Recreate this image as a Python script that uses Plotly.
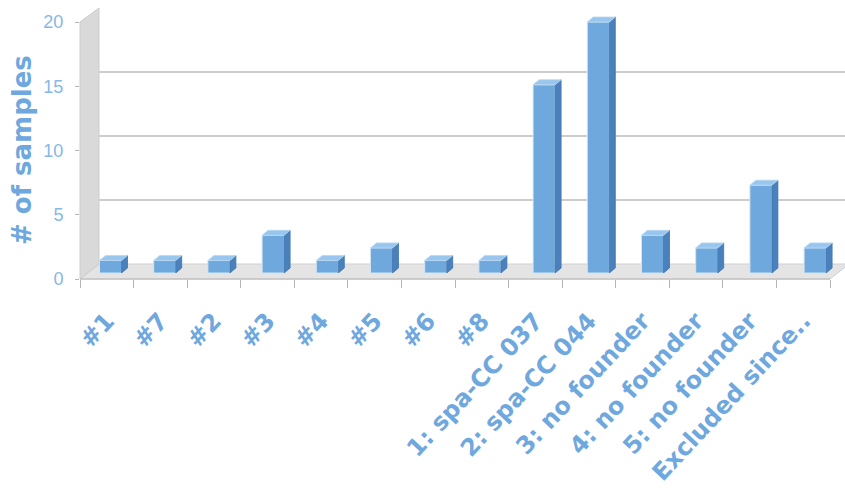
import plotly.graph_objects as go

# ---- data -------------------------------------------------------------
categories = ["#1", "#7", "#2", "#3", "#4", "#5", "#6", "#8",
              "1: spa-CC 037", "2: spa-CC 044", "3: no founder",
              "4: no founder", "5: no founder", "Excluded since.."]
samples = [1, 1, 1, 3, 1, 2, 1, 1, 15, 20, 3, 2, 7, 2]
y_ticks = [0, 5, 10, 15, 20]
y_title = "# of samples"

# ---- geometry (pixels) -------------------------------------------------
W, H = 845, 502
FRONT_X = (80, 830)      # front edge of the floor
FRONT_Y = (279, 22)      # value 0 / value 20 on the front plane
DEPTH = (19, -15)        # offset of the back wall from the front plane
BAR_X = (83.4, 842.2)    # plane in which the bar fronts sit
BAR_Y = (273, 22)
BAR_W_PX, SIDE_PX, TOP_PX = 22, 6, 5
YMAX = 20
HEADROOM = 1.5           # extra value units above the bar plane for 3D tops


def xd(px):
    return px / W


def yd(py):
    return 1 - py / H


FRONT = "#6fa8dc"
SIDE = "#4a80bb"
TOP = "#98c6ee"
EDGE = "#cfe4f7"
LABEL = "#6fa8de"
TICKLBL = "#86b8e6"
FONT = "DejaVu Sans"

n = len(categories)
idx = list(range(n))

fig = go.Figure()

# back wall: gridlines only (subplot xy, drawn first)
fig.add_trace(go.Scatter(x=[0, 1], y=[0, 0], mode="lines",
                         line=dict(width=0), hoverinfo="skip",
                         xaxis="x", yaxis="y"))

# front axis carrying the category labels (subplot x2y2)
fig.add_trace(go.Scatter(x=categories, y=[0] * n, mode="markers",
                         marker=dict(opacity=0), hoverinfo="skip",
                         xaxis="x2", yaxis="y2"))

# bars (subplot x3y3, drawn last so they sit above the grid)
bar_span = BAR_X[1] - BAR_X[0]
unit_x = bar_span / n                     # px per category on bar plane
unit_y = (BAR_Y[0] - BAR_Y[1]) / YMAX     # px per value on bar plane
bw = BAR_W_PX / unit_x
ddx = SIDE_PX / unit_x
ddy = TOP_PX / unit_y

side_x, side_y, top_x, top_y = [], [], [], []
for i, v in zip(idx, samples):
    r = i + bw / 2
    l = i - bw / 2
    side_x += [r, r + ddx, r + ddx, r, r, None]
    side_y += [0, ddy, v + ddy, v, 0, None]
    top_x += [l, r, r + ddx, l + ddx, l, None]
    top_y += [v, v, v + ddy, v + ddy, v, None]

fig.add_trace(go.Scatter(x=side_x, y=side_y, mode="lines", fill="toself",
                         fillcolor=SIDE, line=dict(color="#3f74ad", width=0.8),
                         hoverinfo="skip", cliponaxis=False,
                         xaxis="x3", yaxis="y3"))
fig.add_trace(go.Bar(x=idx, y=samples, width=bw, marker=dict(
    color=FRONT, line=dict(color=EDGE, width=1)), cliponaxis=False,
    hoverinfo="skip", xaxis="x3", yaxis="y3"))
fig.add_trace(go.Scatter(x=top_x, y=top_y, mode="lines", fill="toself",
                         fillcolor=TOP, line=dict(color="#b8d8f3", width=0.8),
                         hoverinfo="skip", cliponaxis=False,
                         xaxis="x3", yaxis="y3"))

# floor and left wall
fx0, fx1 = FRONT_X
fy0, fyt = FRONT_Y
bx0, bx1 = fx0 + DEPTH[0], fx1 + DEPTH[0]
by0, byt = fy0 + DEPTH[1], 8
floor_path = (f"M {xd(fx0)} {yd(fy0)} L {xd(fx1)} {yd(fy0)} "
              f"L {xd(bx1)} {yd(by0)} L {xd(bx0)} {yd(by0)} Z")
wall_path = (f"M {xd(fx0)} {yd(fy0)} L {xd(bx0)} {yd(by0)} "
             f"L {xd(bx0)} {yd(byt)} L {xd(fx0)} {yd(fyt)} Z")
shapes = [
    dict(type="path", path=floor_path, xref="paper", yref="paper",
         fillcolor="#e4e4e4", line=dict(color="#d0d0d0", width=1),
         layer="below"),
    dict(type="path", path=wall_path, xref="paper", yref="paper",
         fillcolor="#d9d9d9", line=dict(color="#cccccc", width=1),
         layer="below"),
    dict(type="line", xref="paper", yref="paper",
         x0=xd(fx0), x1=xd(fx1), y0=yd(fy0), y1=yd(fy0),
         line=dict(color="#c4c4c4", width=1.5), layer="below"),
]

bar_top_px = BAR_Y[1] - HEADROOM * unit_y

fig.update_layout(
    width=W, height=H, autosize=False,
    margin=dict(l=0, r=0, t=0, b=0, pad=0, autoexpand=False),
    paper_bgcolor="white", plot_bgcolor="rgba(0,0,0,0)",
    showlegend=False, shapes=shapes,
    xaxis=dict(domain=[xd(bx0), 1.0], range=[0, 1], visible=False,
               fixedrange=True, automargin=False),
    yaxis=dict(domain=[yd(by0), yd(byt)], range=[0, YMAX],
               tickvals=y_ticks, showgrid=True, gridcolor="#cdcdcd",
               gridwidth=1.5, showticklabels=False, zeroline=False,
               showline=False, ticks="", automargin=False),
    xaxis2=dict(domain=[xd(fx0), xd(fx1)], type="category",
                categoryorder="array", categoryarray=categories,
                range=[-0.5, n - 0.5], tickson="boundaries",
                ticks="outside", ticklen=8, tickcolor="#b5b5b5",
                tickangle=-47, ticklabelstandoff=22,
                tickfont=dict(family=FONT, size=24, color=LABEL,
                              weight="bold"),
                showgrid=False, zeroline=False, showline=False,
                anchor="y2", automargin=False),
    yaxis2=dict(domain=[yd(fy0), yd(fyt)], range=[0, YMAX],
                tickvals=y_ticks, ticks="outside", ticklen=4,
                tickcolor="#b5b5b5", ticklabelstandoff=8,
                tickfont=dict(family="Liberation Sans", size=18,
                              color=TICKLBL),
                showgrid=False, zeroline=False, showline=False,
                anchor="x2", automargin=False),
    xaxis3=dict(domain=[xd(BAR_X[0]), xd(BAR_X[1])], range=[-0.5, n - 0.5],
                visible=False, anchor="y3", automargin=False),
    yaxis3=dict(domain=[yd(BAR_Y[0]), yd(bar_top_px)],
                range=[0, YMAX + HEADROOM],
                visible=False, anchor="x3", automargin=False),
    annotations=[dict(text=y_title, textangle=-90, x=xd(22), y=yd(150),
                      xref="paper", yref="paper", showarrow=False,
                      xanchor="center", yanchor="middle",
                      font=dict(family=FONT, size=26, color=LABEL,
                                weight="bold"))],
)

fig.write_html("out.html")
